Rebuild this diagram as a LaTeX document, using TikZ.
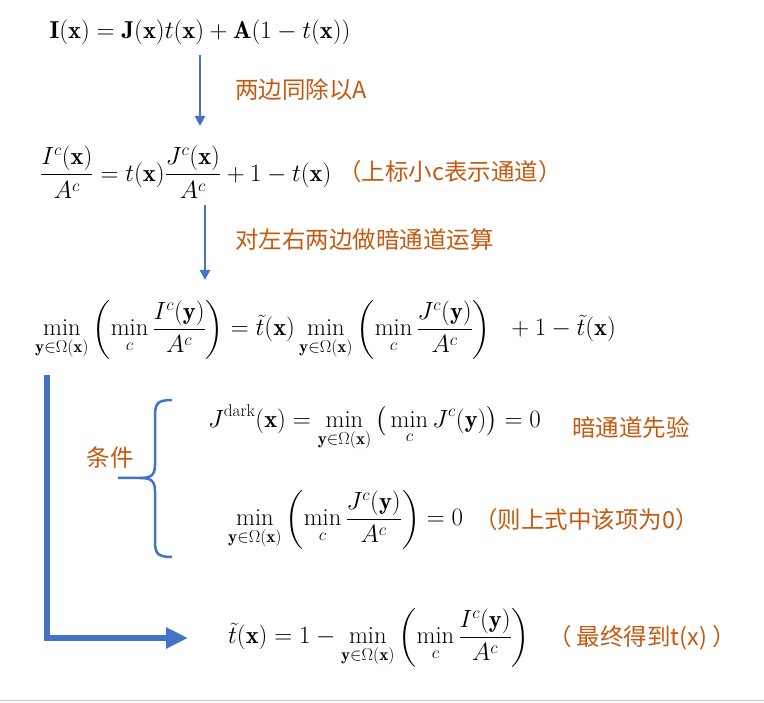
\documentclass[tikz,border=0pt]{standalone}
\usepackage{amsmath,amssymb}
\usepackage{fontspec}
\newfontfamily\cjk{Noto Sans CJK SC}
\usetikzlibrary{arrows.meta}
\definecolor{ablue}{HTML}{4472C4}
\definecolor{aorange}{HTML}{C55A11}
\begin{document}
\begin{tikzpicture}[x=1pt,y=-1pt,
  eq/.style={inner sep=0pt,font=\fontsize{24.5}{28}\selectfont},
  lab/.style={inner sep=0pt,text=aorange,font=\cjk\fontsize{23.5}{26}\selectfont},
  arr/.style={ablue,line width=2.5pt,-{Triangle[length=10pt,width=10pt]}}]
\useasboundingbox (0,0) rectangle (764,703);
\fill[white] (0,0) rectangle (764,703);
\draw[gray!40,line width=1pt] (0,700) -- (764,700);
\node[eq] (e1) at (200,32) {$\mathbf{I}(\mathbf{x})=\mathbf{J}(\mathbf{x})t(\mathbf{x})+\mathbf{A}(1-t(\mathbf{x}))$};
\coordinate (a1s) at (200,55); \coordinate (a1e) at (200,126);
\draw[arr] (a1s) -- (a1e);
\node[lab,anchor=west] (l1) at (235,90) {两边同除以A};
\node[eq,anchor=west] (e2) at (40,172) {$\dfrac{I^c(\mathbf{x})}{A^c}=t(\mathbf{x})\dfrac{J^c(\mathbf{x})}{A^c}+1-t(\mathbf{x})$};
\node[lab,anchor=west] (l2) at (338,172) {（上标小c表示通道）};
\coordinate (a2s) at (205,205); \coordinate (a2e) at (205,280);
\draw[arr] (a2s) -- (a2e);
\node[lab,anchor=west] (l3) at (235,240) {对左右两边做暗通道运算};
\node[eq,anchor=west] (e3) at (35,330) {$\displaystyle\min_{\mathbf{y}\in\Omega(\mathbf{x})}\left(\min_c\frac{I^c(\mathbf{y})}{A^c}\right)=\tilde{t}(\mathbf{x})\min_{\mathbf{y}\in\Omega(\mathbf{x})}\left(\min_c\frac{J^c(\mathbf{y})}{A^c}\right)\ \ +1-\tilde{t}(\mathbf{x})$};
\coordinate (bs) at (47,375); \coordinate (bc) at (47,638); \coordinate (be) at (188,638);
\draw[ablue,line width=6pt,-{Triangle[length=22pt,width=20pt]}] (bs) -- (bc) -- (be);
\coordinate (br1) at (172,400); \coordinate (br2) at (172,557); \coordinate (brt) at (118,478);
\draw[ablue,line width=2.5pt] (br1) .. controls (155,400) and (155,405) .. (155,420) -- (155,465) .. controls (155,476) and (150,478) .. (140,478) -- (brt);
\draw[ablue,line width=2.5pt] (br2) .. controls (155,557) and (155,552) .. (155,537) -- (155,491) .. controls (155,480) and (150,478) .. (140,478);
\node[lab] (l4) at (110,458) {条件};
\node[eq,anchor=west] (e4) at (208,428) {$\displaystyle J^{\mathrm{dark}}(\mathbf{x})=\min_{\mathbf{y}\in\Omega(\mathbf{x})}\big(\min_c J^c(\mathbf{y})\big)=0$};
\node[lab,anchor=west] (l5) at (572,428) {暗通道先验};
\node[eq,anchor=west] (e5) at (228,520) {$\displaystyle\min_{\mathbf{y}\in\Omega(\mathbf{x})}\left(\min_c\frac{J^c(\mathbf{y})}{A^c}\right)=0$};
\node[lab,anchor=west] (l6) at (474,520) {（则上式中该项为0）};
\node[eq,anchor=west] (e6) at (228,638) {$\displaystyle\tilde{t}(\mathbf{x})=1-\min_{\mathbf{y}\in\Omega(\mathbf{x})}\left(\min_c\frac{I^c(\mathbf{y})}{A^c}\right)$};
\node[lab,anchor=west] (l7) at (548,638) {（ 最终得到t(x) ）};
\end{tikzpicture}
\end{document}
